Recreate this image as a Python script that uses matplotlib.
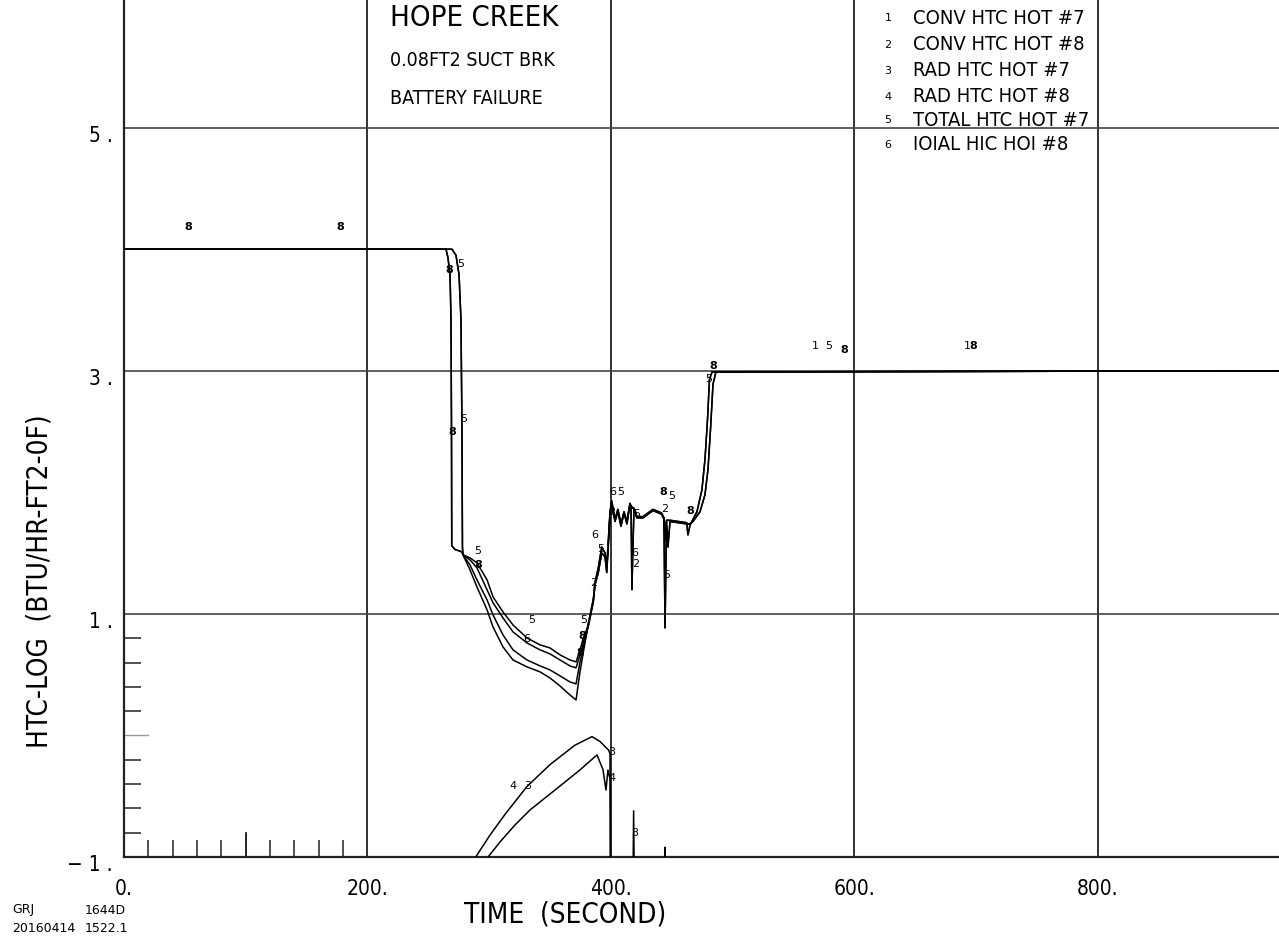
import matplotlib
matplotlib.use("Agg")
import matplotlib.pyplot as plt
from matplotlib.transforms import ScaledTranslation

# ---- data (time in s, log10 of HTC) ----
X_MAX = 948.7
Y_MAX = 6.05

# flat part, all conv/total curves sit at the 1e4 cap
flat_t = [0.0, 264.5]
flat_v = [4.0, 4.0]

# drop of hot rod #8 (curves 2 and 6)
drop8_t = [266.1, 267.8, 268.6, 269.0, 269.2, 271.9, 277.6]
drop8_v = [3.93, 3.79, 3.42, 2.51, 1.56, 1.53, 1.51]
# drop of hot rod #7 (curves 1 and 5)
drop7_t = [264.5, 269.4, 272.7, 275.2, 276.8, 277.6, 278.0]
drop7_v = [4.0, 4.0, 3.95, 3.79, 3.42, 2.51, 1.55]

# slow decay after the drop
desc_t = [278.4, 284.2, 289.9, 298.2, 303.1, 311.3, 319.5, 331.0, 341.7, 349.9, 358.1, 366.3, 371.3]
desc1_v = [1.486, 1.403, 1.280, 1.115, 0.992, 0.827, 0.704, 0.621, 0.572, 0.539, 0.490, 0.440, 0.424]
desc2_v = [1.486, 1.362, 1.222, 1.033, 0.893, 0.728, 0.621, 0.564, 0.523, 0.473, 0.407, 0.333, 0.292]
desc5_v = [1.486, 1.461, 1.420, 1.280, 1.140, 1.016, 0.909, 0.802, 0.745, 0.720, 0.663, 0.621, 0.605]
desc6_v = [1.486, 1.444, 1.379, 1.198, 1.091, 0.967, 0.852, 0.761, 0.704, 0.671, 0.621, 0.572, 0.556]

turn_t = [374.5, 377.2]
turn1_v = [0.60, 0.72]
turn2_v = [0.52, 0.68]
turn5_v = [0.70, 0.80]
turn6_v = [0.66, 0.76]

# reflood, rod #7
rise7_t = [381.4, 385.5, 386.9, 389.6, 392.4, 395.1, 396.5, 397.8, 399.2, 400.6, 403.3, 405.7,
           408.2, 410.7, 413.1, 415.6, 418.9, 421.4, 426.3, 434.5, 441.6, 443.5, 444.4, 445.0,
           445.6, 446.8, 448.5, 462.2, 464.9, 467.3, 473.1, 477.2, 479.7, 481.7, 483.8, 486.2, X_MAX]
rise7_v = [0.90, 1.10, 1.24, 1.34, 1.50, 1.47, 1.34, 1.56, 1.82, 1.90, 1.76, 1.84,
           1.72, 1.83, 1.74, 1.90, 1.86, 1.79, 1.79, 1.85, 1.82, 1.78, 0.885, 1.30,
           1.76, 1.55, 1.76, 1.74, 1.74, 1.76, 1.84, 1.98, 2.19, 2.51, 2.89, 2.99, 3.0]
# reflood, rod #8
rise8_t = [381.4, 385.5, 386.9, 389.6, 392.4, 395.1, 396.5, 397.8, 399.2, 400.6, 403.3, 405.7,
           408.2, 410.7, 413.1, 415.6, 416.5, 417.2, 417.9, 418.9, 421.4, 426.3, 434.5, 441.6,
           443.5, 444.4, 445.6, 448.5, 462.2, 463.2, 464.9, 470.6, 474.7, 477.2, 479.3, 480.9,
           483.0, X_MAX]
rise8_v = [0.92, 1.12, 1.26, 1.38, 1.55, 1.50, 1.38, 1.60, 1.84, 1.93, 1.78, 1.86,
           1.74, 1.84, 1.76, 1.91, 1.88, 1.20, 1.50, 1.87, 1.80, 1.80, 1.86, 1.83,
           1.79, 1.60, 1.77, 1.77, 1.75, 1.65, 1.73, 1.84, 2.02, 2.27, 2.60, 2.93,
           2.99, 3.0]

# radiation HTC
rad3_t = [299.0, 308.8, 321.1, 333.5, 354.0, 374.5, 388.5, 393.4, 395.9, 397.5, 398.5, 399.5,
          399.8, 417.8, 418.6, 419.4, 443.8, 444.3, 444.8, X_MAX]
rad3_v = [-1.0, -0.877, -0.737, -0.613, -0.449, -0.284, -0.160, -0.28, -0.449, -0.284, -0.33, -0.37,
          -1.5, -1.5, -0.62, -1.5, -1.5, -0.92, -1.5, -1.5]
rad4_t = [285.0, 288.9, 300.6, 312.9, 331.0, 349.9, 370.4, 384.4, 391.0, 396.0, 398.0, 399.2, 399.6, X_MAX]
rad4_v = [-1.06, -1.0, -0.82, -0.65, -0.42, -0.24, -0.08, -0.01, -0.05, -0.10, -0.12, -0.15, -1.5, -1.5]

# curve id labels along the curves (text, time, value)
curve_labels = [
    ("8", 52.6, 4.18), ("8", 177.4, 4.18),
    ("8", 267.5, 3.83), ("5", 276.5, 3.88),
    ("8", 270.0, 2.50), ("5", 279.0, 2.60),
    ("5", 290.8, 1.52), ("8", 290.8, 1.40),
    ("5", 335.1, 0.95), ("6", 330.5, 0.79),
    ("5", 377.5, 0.95), ("8", 376.5, 0.82), ("8", 375.0, 0.68),
    ("2", 386.0, 1.25), ("6", 387.0, 1.65), ("5", 391.5, 1.53),
    ("6", 401.5, 2.00), ("5", 408.0, 2.00), ("2", 400.5, 1.84),
    ("5", 421.4, 1.82), ("6", 419.7, 1.50), ("2", 420.0, 1.41),
    ("8", 443.0, 2.00), ("5", 449.5, 1.97), ("2", 444.5, 1.86),
    ("5", 446.0, 1.32), ("8", 464.9, 1.85),
    ("5", 480.5, 2.93), ("8", 484.0, 3.04),
    ("1", 567.5, 3.20), ("5", 579.1, 3.20), ("8", 591.4, 3.17),
    ("1", 693.0, 3.20), ("8", 697.5, 3.20),
    ("4", 319.5, -0.42), ("3", 331.8, -0.42),
    ("3", 400.2, -0.14), ("4", 400.5, -0.35),
    ("3", 419.7, -0.80),
]

legend_names = ["CONV HTC HOT #7", "CONV HTC HOT #8", "RAD HTC HOT #7",
                "RAD HTC HOT #8", "TOTAL HTC HOT #7", "IOIAL HIC HOI #8"]
title_lines = ["HOPE CREEK", "0.08FT2 SUCT BRK", "BATTERY FAILURE"]

x_ticks = [0, 200, 400, 600, 800]
x_ticklabels = ["0.", "200.", "400.", "600.", "800."]
y_ticks = [-1, 1, 3, 5]
y_ticklabels = ["\u2212 1 .", "1 .", "3 .", "5 ."]

FONT = dict(family="DejaVu Sans", fontstretch="condensed", fontweight="light")

# ---- figure ----
fig = plt.figure(figsize=(12.79, 9.39), dpi=100)
ax = fig.add_axes([124 / 1279, 82 / 939, 1155 / 1279, 857 / 939])
ax.set_xlim(0, X_MAX)
ax.set_ylim(-1, Y_MAX)

for s in ("top", "right"):
    ax.spines[s].set_visible(False)
for s in ("left", "bottom"):
    ax.spines[s].set_linewidth(1.6)
    ax.spines[s].set_color("#222222")

for xv in x_ticks[1:]:
    ax.axvline(xv, color="#222222", lw=1.3, zorder=1)
for yv in y_ticks[1:]:
    ax.axhline(yv, color="#444444", lw=1.2, zorder=1)

def curve(*parts):
    tt, vv = [], []
    for t, v in parts:
        tt += list(t)
        vv += list(v)
    return tt, vv

series = [
    curve((flat_t, flat_v), (drop7_t, drop7_v), (desc_t, desc1_v), (turn_t, turn1_v), (rise7_t, rise7_v)),
    curve((flat_t, flat_v), (drop8_t, drop8_v), (desc_t, desc2_v), (turn_t, turn2_v), (rise8_t, rise8_v)),
    (rad3_t, rad3_v),
    (rad4_t, rad4_v),
    curve((flat_t, flat_v), (drop7_t, drop7_v), (desc_t, desc5_v), (turn_t, turn5_v), (rise7_t, rise7_v)),
    curve((flat_t, flat_v), (drop8_t, drop8_v), (desc_t, desc6_v), (turn_t, turn6_v), (rise8_t, rise8_v)),
]
for t, v in series:
    ax.plot(t, v, color="black", lw=1.1, zorder=3)

for txt, t, v in curve_labels:
    ax.text(t, v, txt, fontsize=8, ha="center", va="center", color="black",
            fontweight="bold" if txt == "8" else "normal", zorder=4)

# ticks
ax.set_xticks(x_ticks)
ax.set_xticklabels(x_ticklabels, **FONT)
ax.set_yticks(y_ticks)
ax.set_yticklabels(y_ticklabels, **FONT)
ax.tick_params(which="major", length=0, labelsize=15)
ax.tick_params(axis="x", which="major", pad=16)
ax.tick_params(axis="y", which="major", pad=8)
ax.set_xticks([20, 40, 60, 80, 120, 140, 160, 180], minor=True)
ax.set_yticks([-0.8, -0.6, -0.4, -0.2, 0.2, 0.4, 0.6, 0.8], minor=True)
ax.tick_params(which="minor", direction="in", length=12, width=1.2, color="#333333")
ax.plot([100, 100], [0, 24 / 857], transform=ax.get_xaxis_transform(), color="black", lw=1.2, clip_on=False)
ax.plot([0, 24 / 1155], [0, 0], transform=ax.get_yaxis_transform(), color="#999999", lw=1.0, clip_on=False)
for lbl in ax.get_yticklabels():
    lbl.set_transform(lbl.get_transform() + ScaledTranslation(0, -0.06, fig.dpi_scale_trans))

# texts
fig.text(390 / 1279, 1 - 18 / 939, title_lines[0], fontsize=21, va="center", ha="left", **FONT)
fig.text(390 / 1279, 1 - 60 / 939, title_lines[1], fontsize=14, va="center", ha="left", **FONT)
fig.text(390 / 1279, 1 - 98 / 939, title_lines[2], fontsize=14, va="center", ha="left", **FONT)

leg_y = [18, 45, 71, 97, 120, 145]
for i, (name, yy) in enumerate(zip(legend_names, leg_y)):
    fig.text(888 / 1279, 1 - yy / 939, str(i + 1), fontsize=8, va="center", ha="center")
    fig.text(913 / 1279, 1 - yy / 939, name, fontsize=14.5, va="center", ha="left", **FONT)

fig.text(40 / 1279, 1 - 581 / 939, "HTC-LOG  (BTU/HR-FT2-0F)", rotation=90, fontsize=20,
         va="center", ha="center", **FONT)
fig.text(565 / 1279, 1 - 915 / 939, "TIME  (SECOND)", fontsize=20, va="center", ha="center", **FONT)

fig.text(12 / 1279, 1 - 910 / 939, "GRJ", fontsize=9, va="center", ha="left")
fig.text(85 / 1279, 1 - 910 / 939, "1644D", fontsize=9, va="center", ha="left")
fig.text(12 / 1279, 1 - 928 / 939, "20160414", fontsize=9, va="center", ha="left")
fig.text(85 / 1279, 1 - 928 / 939, "1522.1", fontsize=9, va="center", ha="left")

fig.savefig("out.png", dpi=100)
